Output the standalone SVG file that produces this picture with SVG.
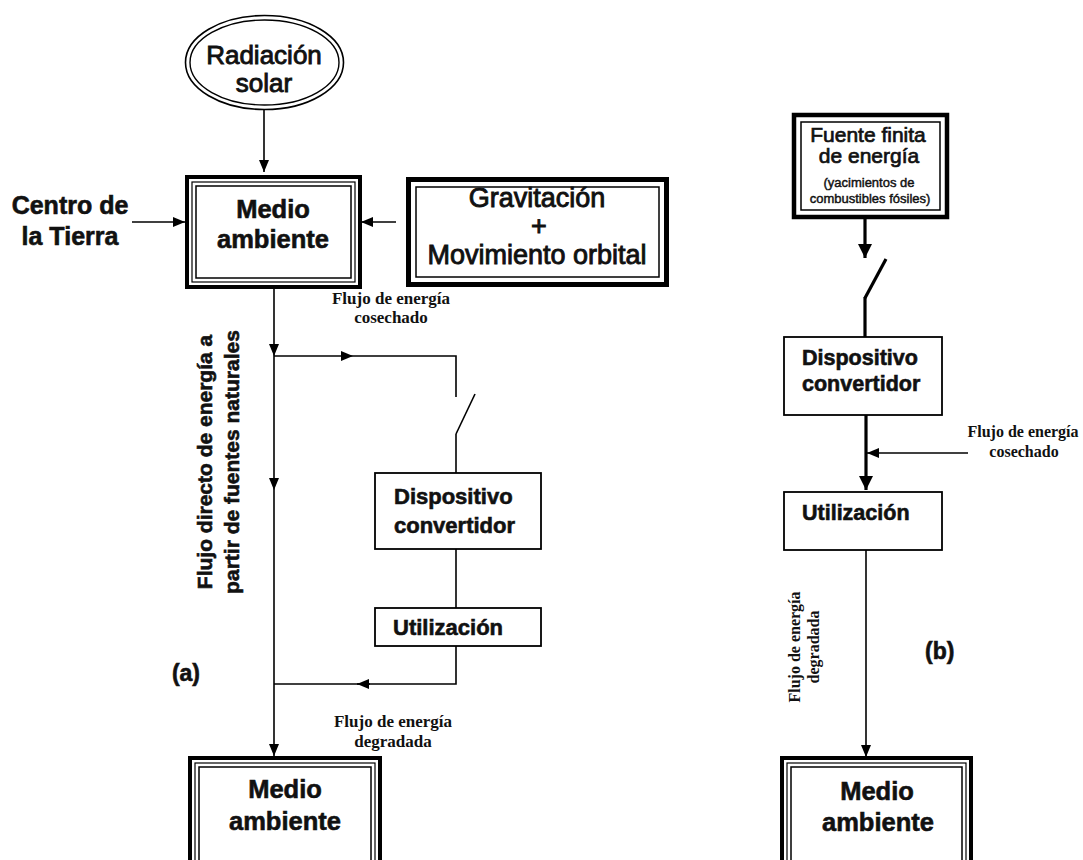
<svg xmlns="http://www.w3.org/2000/svg" width="1083" height="860" viewBox="0 0 1083 860">
<defs>
<style>
.ln{stroke:#000;fill:none;stroke-width:1.6}
.thk{stroke:#000;fill:none;stroke-width:3.2}
.box{fill:#fff;stroke:#000;stroke-width:1.8}
.hv{font-family:"Liberation Sans",Arial,sans-serif;font-weight:bold;fill:#111;stroke:#111;stroke-width:0.6}
.rg{font-family:"Liberation Sans",Arial,sans-serif;font-weight:normal;fill:#111;stroke:#111;stroke-width:0.9}
.tm{font-family:"Liberation Serif","Times New Roman",serif;font-weight:bold;fill:#111}
</style>
<marker id="ah" viewBox="0 0 12 10" refX="12" refY="5" markerWidth="12" markerHeight="10" markerUnits="userSpaceOnUse" orient="auto"><path d="M0,0 L12,5 L0,10 z" fill="#000"/></marker>
<marker id="ahb" viewBox="0 0 14 14" refX="14" refY="7" markerWidth="14" markerHeight="14" markerUnits="userSpaceOnUse" orient="auto"><path d="M0,0 L14,7 L0,14 z" fill="#000"/></marker>
</defs>
<rect x="0" y="0" width="1083" height="860" fill="#fff"/>

<g id="connectors">
  <line class="ln" x1="264" y1="110" x2="264" y2="172" marker-end="url(#ah)"/>
  <line class="ln" x1="132" y1="222" x2="185" y2="222" marker-end="url(#ah)"/>
  <line class="ln" x1="396" y1="222" x2="361" y2="222" marker-end="url(#ah)"/>
  <line class="ln" x1="274" y1="288" x2="274" y2="356" marker-end="url(#ah)"/>
  <line class="ln" x1="274" y1="356" x2="274" y2="490" marker-end="url(#ah)"/>
  <line class="ln" x1="274" y1="490" x2="274" y2="756" marker-end="url(#ah)"/>
  <line class="ln" x1="274" y1="356" x2="353" y2="356" marker-end="url(#ah)"/>
  <polyline class="ln" points="353,356 456,356 456,397"/>
  <line class="ln" x1="456" y1="434" x2="475" y2="394"/>
  <line class="ln" x1="456" y1="434" x2="456" y2="473"/>
  <line class="ln" x1="456" y1="549" x2="456" y2="608"/>
  <polyline class="ln" points="456,646 456,684 357,684"/>
  <line class="ln" x1="370" y1="684" x2="357" y2="684" marker-end="url(#ah)"/>
  <line class="ln" x1="357" y1="684" x2="274" y2="684"/>
  <line class="thk" x1="865" y1="219" x2="865" y2="258" marker-end="url(#ahb)"/>
  <line class="thk" x1="865" y1="298" x2="886" y2="259"/>
  <line class="thk" x1="865" y1="297" x2="865" y2="337"/>
  <line class="thk" x1="866" y1="415" x2="866" y2="490" marker-end="url(#ahb)"/>
  <line class="ln" x1="968" y1="453" x2="867" y2="453" marker-end="url(#ah)"/>
  <line class="ln" x1="866" y1="550" x2="866" y2="757" marker-end="url(#ah)"/>
</g>

<g id="radiacion">
  <ellipse cx="264.5" cy="62.5" rx="79" ry="47" fill="#fff" stroke="#000" stroke-width="1.6"/>
  <ellipse cx="264.5" cy="62.5" rx="74.5" ry="42.5" fill="none" stroke="#000" stroke-width="1.4"/>
  <text class="rg" x="264" y="64" font-size="26" text-anchor="middle">Radiación</text>
  <text class="rg" x="264" y="92" font-size="26" text-anchor="middle">solar</text>
</g>

<g id="medio-top">
  <rect x="187" y="177" width="173" height="110" fill="#fff" stroke="#000" stroke-width="4"/>
  <rect x="192" y="182" width="163" height="100" fill="none" stroke="#000" stroke-width="1.2"/>
  <rect x="196" y="186" width="155" height="92" fill="none" stroke="#000" stroke-width="1.5"/>
  <text class="hv" x="273" y="218" font-size="25.5" text-anchor="middle">Medio</text>
  <text class="hv" x="273" y="248" font-size="25.5" text-anchor="middle">ambiente</text>
</g>

<g id="centro">
  <text class="hv" x="70" y="214" font-size="25" text-anchor="middle">Centro de</text>
  <text class="hv" x="70" y="245" font-size="25" text-anchor="middle">la Tierra</text>
</g>

<g id="gravitacion">
  <rect x="408.5" y="179.5" width="258" height="105" fill="#fff" stroke="#000" stroke-width="5"/>
  <rect x="416" y="187" width="243" height="90" fill="none" stroke="#000" stroke-width="1.5"/>
  <text class="rg" x="537" y="207" font-size="27" text-anchor="middle">Gravitación</text>
  <text class="rg" x="539" y="235" font-size="27" text-anchor="middle">+</text>
  <text class="rg" x="537" y="264" font-size="27" text-anchor="middle">Movimiento orbital</text>
</g>

<g id="label-cosechado-a">
  <text class="tm" x="391" y="304" font-size="17" text-anchor="middle">Flujo de energía</text>
  <text class="tm" x="391" y="323" font-size="17" text-anchor="middle">cosechado</text>
</g>

<g id="label-directo">
  <text class="hv" transform="translate(212,462) rotate(-90)" font-size="21" text-anchor="middle">Flujo directo de energía a</text>
  <text class="hv" transform="translate(239,462) rotate(-90)" font-size="21" text-anchor="middle">partir de fuentes naturales</text>
</g>

<g id="dispositivo-a">
  <rect class="box" x="375" y="473" width="166" height="76"/>
  <text class="hv" x="394" y="504" font-size="22">Dispositivo</text>
  <text class="hv" x="394" y="533" font-size="22">convertidor</text>
</g>

<g id="utilizacion-a">
  <rect class="box" x="375" y="608" width="166" height="38"/>
  <text class="hv" x="393" y="635" font-size="22">Utilización</text>
</g>

<g id="label-a">
  <text class="hv" x="200" y="681" font-size="23" text-anchor="end">(a)</text>
</g>

<g id="label-degradada-a">
  <text class="tm" x="393" y="727" font-size="17" text-anchor="middle">Flujo de energía</text>
  <text class="tm" x="393" y="747" font-size="17" text-anchor="middle">degradada</text>
</g>

<g id="medio-bottom-a">
  <rect x="190" y="758" width="190" height="130" fill="#fff" stroke="#000" stroke-width="4"/>
  <rect x="195" y="763" width="180" height="120" fill="none" stroke="#000" stroke-width="1.2"/>
  <rect x="199" y="767" width="172" height="112" fill="none" stroke="#000" stroke-width="1.5"/>
  <text class="hv" x="285" y="798" font-size="25.5" text-anchor="middle">Medio</text>
  <text class="hv" x="285" y="830" font-size="25.5" text-anchor="middle">ambiente</text>
</g>

<g id="fuente">
  <rect x="794" y="115" width="153" height="102" fill="#fff" stroke="#000" stroke-width="4.5"/>
  <rect x="801" y="122" width="139" height="88" fill="none" stroke="#000" stroke-width="1.5"/>
  <text class="rg" x="868" y="142" font-size="21" text-anchor="middle" style="stroke-width:0.7">Fuente finita</text>
  <text class="rg" x="869" y="163" font-size="21" text-anchor="middle" style="stroke-width:0.7">de energía</text>
  <text class="rg" x="869" y="187" font-size="13" text-anchor="middle" style="stroke-width:0.45">(yacimientos de</text>
  <text class="rg" x="870" y="203" font-size="13" text-anchor="middle" style="stroke-width:0.45">combustibles fósiles)</text>
</g>

<g id="dispositivo-b">
  <rect class="box" x="784" y="337" width="158" height="78"/>
  <text class="hv" x="802" y="365" font-size="21.5">Dispositivo</text>
  <text class="hv" x="802" y="391" font-size="21.5">convertidor</text>
</g>

<g id="label-cosechado-b">
  <text class="tm" x="1023" y="437" font-size="16" text-anchor="middle">Flujo de energía</text>
  <text class="tm" x="1024" y="457" font-size="16" text-anchor="middle">cosechado</text>
</g>

<g id="utilizacion-b">
  <rect class="box" x="784" y="492" width="158" height="58"/>
  <text class="hv" x="802" y="520" font-size="21.5">Utilización</text>
</g>

<g id="label-degradada-b">
  <text class="tm" transform="translate(800,647) rotate(-90)" font-size="16" text-anchor="middle">Flujo de energía</text>
  <text class="tm" transform="translate(819,647) rotate(-90)" font-size="16" text-anchor="middle">degradada</text>
</g>

<g id="label-b">
  <text class="hv" x="925" y="659" font-size="23">(b)</text>
</g>

<g id="medio-bottom-b">
  <rect x="782" y="758" width="189" height="130" fill="#fff" stroke="#000" stroke-width="4"/>
  <rect x="787" y="763" width="179" height="120" fill="none" stroke="#000" stroke-width="1.2"/>
  <rect x="791" y="767" width="171" height="112" fill="none" stroke="#000" stroke-width="1.5"/>
  <text class="hv" x="877" y="800" font-size="25.5" text-anchor="middle">Medio</text>
  <text class="hv" x="878" y="831" font-size="25.5" text-anchor="middle">ambiente</text>
</g>
</svg>
